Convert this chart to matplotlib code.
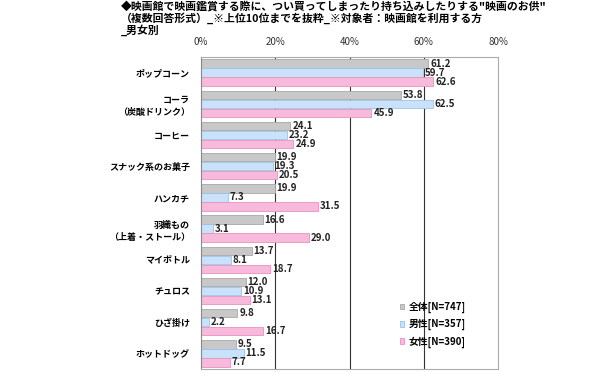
import matplotlib
matplotlib.use('Agg')
from matplotlib import pyplot as plt
import numpy as np

plt.rcParams['font.family'] = ['Noto Sans CJK JP', 'DejaVu Sans']

categories = ['ポップコーン', 'コーラ\n（炭酸ドリンク）', 'コーヒー', 'スナック系のお菓子', 'ハンカチ',
              '羽織もの\n（上着・ストール）', 'マイボトル', 'チュロス', 'ひざ掛け', 'ホットドッグ']
total = [61.2, 53.8, 24.1, 19.9, 19.9, 16.6, 13.7, 12.0, 9.8, 9.5]
male = [59.7, 62.5, 23.2, 19.3, 7.3, 3.1, 8.1, 10.9, 2.2, 11.5]
female = [62.6, 45.9, 24.9, 20.5, 31.5, 29.0, 18.7, 13.1, 16.7, 7.7]
series_names = ['全体[N=747]', '男性[N=357]', '女性[N=390]']
ticks = [0, 20, 40, 60, 80]

colors = ['#c8c8c8', '#c9e2fa', '#f8bada']
edges = ['#a8a8a8', '#99c3ea', '#e793c0']

fig = plt.figure(figsize=(6.15, 3.72), dpi=100)
ax = fig.add_axes([201/615, 1 - 369/372, 297/615, 312/372])

y = np.arange(len(categories))
h = 0.29
for k, vals in enumerate([total, male, female]):
    pos = y + (k - 1) * h
    ax.barh(pos, vals, height=h - 0.02, color=colors[k], edgecolor=edges[k],
            linewidth=0.6, label=series_names[k], zorder=2)
    for p, v in zip(pos, vals):
        ax.text(v + 0.5, p, f'{v:.1f}', va='center', ha='left', fontsize=7,
                fontweight='bold', color='#222222', zorder=4)

ax.set_xlim(0, 80)
ax.set_ylim(len(categories) - 0.5, -0.5)
ax.set_yticks(y)
ax.set_yticklabels(categories, fontsize=6.5, fontweight='bold', linespacing=1.5)
ax.set_xticks(ticks)
ax.set_xticklabels([f'{t}%' for t in ticks], fontsize=7, color='#333333')
ax.xaxis.tick_top()
ax.tick_params(axis='x', length=0, pad=7)
ax.tick_params(axis='y', length=0, pad=8)
for t in ticks[1:-1]:
    ax.axvline(t, color='#333333', linewidth=0.8, zorder=1)
for s in ax.spines.values():
    s.set_color('#aaaaaa')
    s.set_linewidth(0.8)
ax.spines['left'].set_color('#888888')

leg = ax.legend(loc='lower right', bbox_to_anchor=(0.92, 0.04), frameon=False,
                handlelength=0.5, handleheight=0.5, handletextpad=0.4,
                labelspacing=0.6, prop={'weight': 'bold', 'size': 7})

fig.text(121/615, 1 - 1/372,
         '◆映画館で映画鑑賞する際に、つい買ってしまったり持ち込みしたりする"映画のお供"\n'
         '（複数回答形式）_※上位10位までを抜粋_※対象者：映画館を利用する方\n_男女別',
         fontsize=7.8, fontweight='bold', va='top', ha='left', linespacing=1.05)

fig.savefig('out.png', dpi=100, facecolor='white')
